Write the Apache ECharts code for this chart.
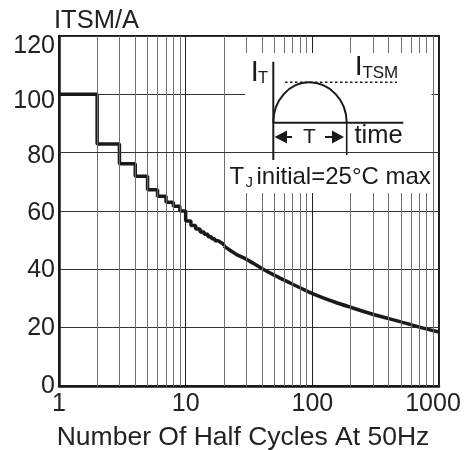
<!DOCTYPE html>
<html><head><meta charset="utf-8">
<script src="https://cdn.jsdelivr.net/npm/echarts@6/dist/echarts.min.js"></script>
<style>html,body{margin:0;padding:0;background:#fff}#c{width:476px;height:450px}</style>
</head><body><div id="c"></div>
<script>
// ---- data ----
const stepCycles  = [1, 2, 3, 4, 5, 6, 7, 8, 9, 10, 11, 12, 13, 14, 15, 16, 17, 18, 19, 20];
const stepCurrent = [100, 83, 76.2, 71.9, 67.3, 65.1, 63, 61.6, 60, 56.6, 55, 53.8, 52.8, 52, 51.2, 50.5, 49.8, 49.2, 48.6, 48];
const tailCycles  = [20, 25, 30, 40, 50, 60, 70, 80, 100, 150, 200, 300, 400, 500, 700, 1000];
const tailCurrent = [48, 45.2, 43.5, 40.3, 38, 36.3, 34.9, 33.7, 31.7, 28.8, 27, 24.6, 23.1, 22, 20.2, 18.5];
const minorGridCycles = [2, 3, 4, 5, 6, 7, 8, 9, 20, 30, 40, 50, 60, 70, 80, 90, 200, 300, 400, 500, 600, 700, 800, 900];
const xTickLabels = [1, 10, 100, 1000];
const yTickLabels = [0, 20, 40, 60, 80, 100, 120];

const FONT = 'Liberation Sans, Arial, Helvetica, sans-serif';
const INK = '#1a1a1a';
const LBL = '#222';

const chart = echarts.init(document.getElementById('c'), null, {renderer: 'canvas'});

// label nudges (visual only) to follow the reference's label placement
const yPad = {0: 0, 20: 0, 40: 2, 60: 4, 80: 7, 100: 13, 120: 20};
const yRich = {};
yTickLabels.forEach(v => { yRich['y' + v] = {fontSize: 25, fontFamily: FONT, color: LBL, padding: [yPad[v], 0, 0, 0]}; });
const xRich = {
  n: {fontSize: 25, fontFamily: FONT, color: LBL},
  last: {fontSize: 25, fontFamily: FONT, color: LBL, padding: [0, 12, 0, 0]}
};

chart.setOption({
  animation: false,
  backgroundColor: '#fff',
  grid: {left: 59, right: 37, top: 36, bottom: 64, show: true, borderColor: INK, borderWidth: 2,
    backgroundColor: 'transparent', containLabel: false, outerBoundsMode: 'none'},
  xAxis: {
    type: 'log', logBase: 10, min: 1, max: 1000,
    axisLine: {show: true, lineStyle: {color: INK, width: 2.5}},
    axisTick: {show: false},
    axisLabel: {fontSize: 25, color: LBL, fontFamily: FONT, margin: 6, rich: xRich,
      formatter: v => {
        const r = Math.round(v);
        if (!xTickLabels.includes(r)) return '';
        return r === xTickLabels[xTickLabels.length - 1] ? '{last|' + r + '}' : '{n|' + r + '}';
      }},
    splitLine: {show: true, lineStyle: {color: '#222', width: 1}},
    name: 'Number Of Half Cycles At 50Hz', nameLocation: 'middle', nameGap: 38,
    nameTextStyle: {fontSize: 26.5, color: LBL, fontFamily: FONT, padding: [0, 12, 0, 0]}
  },
  yAxis: {
    type: 'value', min: yTickLabels[0], max: yTickLabels[yTickLabels.length - 1], interval: 20,
    axisLine: {show: true, lineStyle: {color: INK, width: 2.5}},
    axisTick: {show: false},
    axisLabel: {fontSize: 25, color: LBL, fontFamily: FONT, margin: 4, rich: yRich,
      formatter: v => '{y' + v + '|' + v + '}'},
    splitLine: {show: true, lineStyle: {color: '#333', width: 1}},
    name: 'ITSM/A', nameLocation: 'end', nameGap: 0,
    nameTextStyle: {fontSize: 25.5, color: LBL, fontFamily: FONT, align: 'left', verticalAlign: 'bottom', padding: [0, 0, 0, -5]}
  },
  series: [
    {
      type: 'line', step: 'end', symbol: 'none', z: 3,
      data: stepCycles.map((c, i) => [c, stepCurrent[i]]),
      lineStyle: {color: INK, width: 3.5},
      markLine: {
        silent: true, symbol: ['none', 'none'], label: {show: false},
        lineStyle: {color: '#6e6e6e', width: 1, type: 'solid'},
        data: minorGridCycles.map(v => ({xAxis: v}))
      }
    },
    {
      type: 'line', smooth: 0.3, symbol: 'none', z: 3,
      data: tailCycles.map((c, i) => [c, tailCurrent[i]]),
      lineStyle: {color: INK, width: 3.5}
    }
  ]
});

// ---- inset (decorative sketch) ----
function crisp(p) { const d = Math.round(p * 2); return (d + 1) % 2 === 0 ? d / 2 : (d - 1) / 2; }
const y80 = crisp(chart.convertToPixel({yAxisIndex: 0}, 80));
const xL = chart.convertToPixel({xAxisIndex: 0}, 1);
const xR = chart.convertToPixel({xAxisIndex: 0}, 1000);

const ax = 273.3, base = 122.7, endX = 346.7, peakX = 309, peakY = 82.3, k = 0.5523;
const txt = (x, y, s, size, align) => ({
  type: 'text', x: x, y: y, z: 12,
  style: {text: s, fontSize: size, fontFamily: FONT, fill: INK, align: align || 'left', verticalAlign: 'middle'}
});

chart.setOption({
  graphic: [
    {type: 'rect', z: 10, shape: {x: 245, y: 53, width: 186.5, height: 140}, style: {fill: '#fff'}},
    {type: 'line', z: 11, shape: {x1: xL, y1: y80, x2: xR, y2: y80}, style: {stroke: '#333', lineWidth: 1}},
    {type: 'line', z: 12, shape: {x1: ax, y1: 61.7, x2: ax, y2: 160}, style: {stroke: INK, lineWidth: 2}},
    {type: 'line', z: 12, shape: {x1: ax, y1: base, x2: 403.3, y2: base}, style: {stroke: INK, lineWidth: 2}},
    {type: 'line', z: 12, shape: {x1: endX, y1: base, x2: endX, y2: 155}, style: {stroke: INK, lineWidth: 1.6}},
    {type: 'bezierCurve', z: 12, shape: {x1: ax, y1: base, cpx1: ax, cpy1: base - k * (base - peakY), cpx2: peakX - k * (peakX - ax), cpy2: peakY, x2: peakX, y2: peakY},
      style: {stroke: INK, lineWidth: 2, fill: null}},
    {type: 'bezierCurve', z: 12, shape: {x1: peakX, y1: peakY, cpx1: peakX + k * (endX - peakX), cpy1: peakY, cpx2: endX, cpy2: base - k * (base - peakY), x2: endX, y2: base},
      style: {stroke: INK, lineWidth: 2, fill: null}},
    {type: 'line', z: 12, shape: {x1: 285, y1: peakY, x2: 397, y2: peakY}, style: {stroke: INK, lineWidth: 1.5, lineDash: [2.5, 2.5]}},
    {type: 'polygon', z: 12, shape: {points: [[274.5, 137], [287, 130.5], [287, 143.5]]}, style: {fill: INK}},
    {type: 'line', z: 12, shape: {x1: 286, y1: 137, x2: 292, y2: 137}, style: {stroke: INK, lineWidth: 2}},
    {type: 'line', z: 12, shape: {x1: 325, y1: 137, x2: 333, y2: 137}, style: {stroke: INK, lineWidth: 2}},
    {type: 'polygon', z: 12, shape: {points: [[332, 130.5], [332, 143.5], [344, 137]]}, style: {fill: INK}},
    txt(309.5, 137, 'T', 21, 'center'),
    txt(354.5, 135.6, 'time', 25.5),
    txt(250.7, 72.5, 'I', 29),
    txt(258, 78, 'T', 16.5),
    txt(354.7, 67, 'I', 28.5),
    txt(362.4, 73, 'TSM', 17),
    txt(229.5, 177.5, 'T', 24),
    txt(245.5, 183, 'J', 15),
    txt(256.5, 177.5, 'initial=25°C max', 24)
  ]
});
</script>
</body></html>
